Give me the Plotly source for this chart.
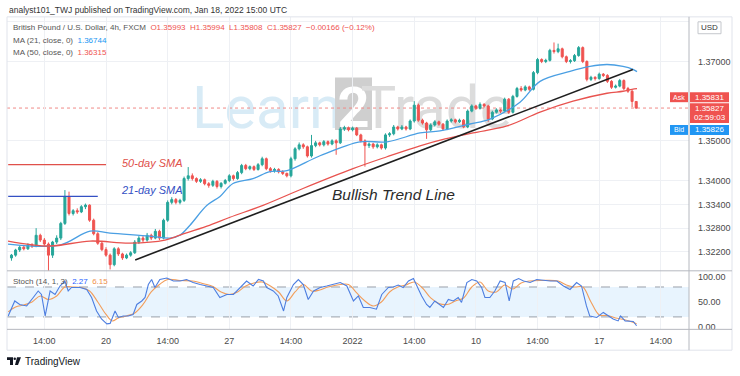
import plotly.graph_objects as go

W, H = 740, 376
def px(x): return x / W
def py(y): return 1 - y / H

# ---------------- data ----------------
candle_idx = list(range(-23, 130))
open_ = [1.3205, 1.3212, 1.3225, 1.3232, 1.3228, 1.3238, 1.3235, 1.3262, 1.3250, 1.3240,
         1.3212, 1.3245, 1.3255, 1.3292, 1.3360, 1.3317, 1.3324, 1.3321, 1.3334, 1.3338,
         1.3300, 1.3266, 1.3242, 1.3226, 1.3212, 1.3188, 1.3228, 1.3215, 1.3205, 1.3212,
         1.3218, 1.3245, 1.3255, 1.3250, 1.3262, 1.3255, 1.3272, 1.3255, 1.3300, 1.3345,
         1.3352, 1.3345, 1.3350, 1.3405, 1.3412, 1.3405, 1.3398, 1.3402, 1.3392, 1.3388,
         1.3398, 1.3385, 1.3393, 1.3400, 1.3412, 1.3405, 1.3420, 1.3438, 1.3430, 1.3435,
         1.3428, 1.3440, 1.3455, 1.3430, 1.3425, 1.3428, 1.3422, 1.3418, 1.3412, 1.3455,
         1.3480, 1.3490, 1.3485, 1.3462, 1.3488, 1.3495, 1.3490, 1.3498, 1.3492, 1.3500,
         1.3495, 1.3530, 1.3533, 1.3528, 1.3532, 1.3515, 1.3500, 1.3488, 1.3492, 1.3485,
         1.3490, 1.3482, 1.3515, 1.3518, 1.3535, 1.3530, 1.3535, 1.3530, 1.3550, 1.3590,
         1.3552, 1.3545, 1.3528, 1.3540, 1.3548, 1.3542, 1.3530, 1.3550, 1.3553, 1.3548,
         1.3552, 1.3535, 1.3575, 1.3588, 1.3582, 1.3592, 1.3588, 1.3555, 1.3572, 1.3578,
         1.3575, 1.3605, 1.3572, 1.3612, 1.3632, 1.3628, 1.3636, 1.3630, 1.3672, 1.3705,
         1.3700, 1.3703, 1.3728, 1.3725, 1.3732, 1.3712, 1.3700, 1.3702, 1.3715, 1.3735,
         1.3700, 1.3655, 1.3660, 1.3657, 1.3668, 1.3665, 1.3650, 1.3635, 1.3638, 1.3652,
         1.3632, 1.3625, 1.35993]
high = [1.3215, 1.3228, 1.3236, 1.3236, 1.3242, 1.3242, 1.3280, 1.3266, 1.3255, 1.3244,
        1.3248, 1.3262, 1.3296, 1.3376, 1.3372, 1.3328, 1.3330, 1.3338, 1.3342, 1.3340,
        1.3304, 1.3270, 1.3248, 1.3232, 1.3216, 1.3232, 1.3232, 1.3218, 1.3216, 1.3222,
        1.3250, 1.3260, 1.3260, 1.3268, 1.3266, 1.3278, 1.3276, 1.3304, 1.3350, 1.3358,
        1.3356, 1.3354, 1.3410, 1.3434, 1.3418, 1.3408, 1.3406, 1.3405, 1.3396, 1.3402,
        1.3401, 1.3396, 1.3404, 1.3416, 1.3415, 1.3424, 1.3442, 1.3442, 1.3438, 1.3438,
        1.3444, 1.3460, 1.3458, 1.3434, 1.3432, 1.3431, 1.3426, 1.3420, 1.3460, 1.3484,
        1.3496, 1.3494, 1.3488, 1.3515, 1.3500, 1.3498, 1.3502, 1.3501, 1.3504, 1.3504,
        1.3535, 1.3538, 1.3536, 1.3536, 1.3535, 1.3518, 1.3504, 1.3496, 1.3495, 1.3494,
        1.3493, 1.3519, 1.3522, 1.3540, 1.3538, 1.3540, 1.3538, 1.3554, 1.3600, 1.3594,
        1.3556, 1.3548, 1.3544, 1.3552, 1.3551, 1.3545, 1.3554, 1.3557, 1.3556, 1.3556,
        1.3555, 1.3579, 1.3592, 1.3591, 1.3597, 1.3595, 1.3591, 1.3576, 1.3582, 1.3581,
        1.3609, 1.3608, 1.3616, 1.3636, 1.3638, 1.3640, 1.3639, 1.3676, 1.3709, 1.3708,
        1.3707, 1.3732, 1.3748, 1.3745, 1.3735, 1.3715, 1.3706, 1.3719, 1.3739, 1.3738,
        1.3703, 1.3664, 1.3663, 1.3672, 1.3671, 1.3668, 1.3653, 1.3642, 1.3656, 1.3655,
        1.3636, 1.3628, 1.35994]
low = [1.3198, 1.3208, 1.3220, 1.3224, 1.3225, 1.3230, 1.3232, 1.3245, 1.3236, 1.3172,
       1.3205, 1.3240, 1.3250, 1.3288, 1.3312, 1.3312, 1.3316, 1.3318, 1.3328, 1.3296,
       1.3262, 1.3238, 1.3222, 1.3208, 1.3176, 1.3184, 1.3210, 1.3200, 1.3202, 1.3208,
       1.3215, 1.3240, 1.3245, 1.3246, 1.3250, 1.3252, 1.3250, 1.3252, 1.3296, 1.3340,
       1.3340, 1.3340, 1.3346, 1.3400, 1.3400, 1.3394, 1.3394, 1.3388, 1.3382, 1.3384,
       1.3380, 1.3380, 1.3390, 1.3396, 1.3400, 1.3402, 1.3416, 1.3426, 1.3426, 1.3424,
       1.3425, 1.3436, 1.3426, 1.3420, 1.3420, 1.3418, 1.3414, 1.3408, 1.3408, 1.3450,
       1.3476, 1.3480, 1.3458, 1.3458, 1.3484, 1.3486, 1.3486, 1.3488, 1.3489, 1.3465,
       1.3492, 1.3525, 1.3524, 1.3524, 1.3512, 1.3496, 1.3435, 1.3482, 1.3480, 1.3481,
       1.3478, 1.3478, 1.3510, 1.3514, 1.3526, 1.3527, 1.3526, 1.3527, 1.3546, 1.3548,
       1.3541, 1.3505, 1.3524, 1.3536, 1.3538, 1.3526, 1.3527, 1.3546, 1.3544, 1.3545,
       1.3532, 1.3532, 1.3572, 1.3578, 1.3579, 1.3584, 1.3548, 1.3552, 1.3569, 1.3570,
       1.3572, 1.3568, 1.3569, 1.3609, 1.3624, 1.3625, 1.3626, 1.3627, 1.3668, 1.3696,
       1.3696, 1.3700, 1.3720, 1.3721, 1.3708, 1.3696, 1.3695, 1.3699, 1.3712, 1.3696,
       1.3650, 1.3651, 1.3652, 1.3654, 1.3661, 1.3646, 1.3631, 1.3632, 1.3635, 1.3628,
       1.3621, 1.3585, 1.35808]
close = [1.3212, 1.3225, 1.3232, 1.3228, 1.3238, 1.3235, 1.3262, 1.3250, 1.3240, 1.3212,
         1.3245, 1.3255, 1.3292, 1.3360, 1.3317, 1.3324, 1.3321, 1.3334, 1.3338, 1.3300,
         1.3266, 1.3242, 1.3226, 1.3212, 1.3188, 1.3228, 1.3215, 1.3205, 1.3212, 1.3218,
         1.3245, 1.3255, 1.3250, 1.3262, 1.3255, 1.3272, 1.3255, 1.3300, 1.3345, 1.3352,
         1.3345, 1.3350, 1.3405, 1.3412, 1.3405, 1.3398, 1.3402, 1.3392, 1.3388, 1.3398,
         1.3385, 1.3393, 1.3400, 1.3412, 1.3405, 1.3420, 1.3438, 1.3430, 1.3435, 1.3428,
         1.3440, 1.3455, 1.3430, 1.3425, 1.3428, 1.3422, 1.3418, 1.3412, 1.3455, 1.3480,
         1.3490, 1.3485, 1.3462, 1.3488, 1.3495, 1.3490, 1.3498, 1.3492, 1.3500, 1.3495,
         1.3530, 1.3533, 1.3528, 1.3532, 1.3515, 1.3500, 1.3488, 1.3492, 1.3485, 1.3490,
         1.3482, 1.3515, 1.3518, 1.3535, 1.3530, 1.3535, 1.3530, 1.3550, 1.3590, 1.3552,
         1.3545, 1.3528, 1.3540, 1.3548, 1.3542, 1.3530, 1.3550, 1.3553, 1.3548, 1.3552,
         1.3535, 1.3575, 1.3588, 1.3582, 1.3592, 1.3588, 1.3555, 1.3572, 1.3578, 1.3575,
         1.3605, 1.3572, 1.3612, 1.3632, 1.3628, 1.3636, 1.3630, 1.3672, 1.3705, 1.3700,
         1.3703, 1.3728, 1.3725, 1.3732, 1.3712, 1.3700, 1.3702, 1.3715, 1.3735, 1.3700,
         1.3655, 1.3660, 1.3657, 1.3668, 1.3665, 1.3650, 1.3635, 1.3638, 1.3652, 1.3632,
         1.3625, 1.35993, 1.35827]

ma21_x = [-23.84, -11.19, -3.89, 0.97, 10.71, 15.57, 18.0, 20.44, 24.57, 27.74, 30.9,
          35.77, 39.9, 44.04, 52.07, 61.8, 68.37, 76.4, 81.27, 88.56, 93.43, 100.73,
          105.6, 112.9, 117.76, 121.9, 125.79, 128.22, 129.2]
ma21 = [1.3240, 1.32375, 1.32725, 1.32675, 1.3260, 1.3255, 1.32625, 1.32875, 1.33375,
        1.3360, 1.33925, 1.3405, 1.34225, 1.3425, 1.34625, 1.34975, 1.34975, 1.3520,
        1.3525, 1.35425, 1.3555, 1.35975, 1.3650, 1.3675, 1.36875, 1.36925, 1.36875,
        1.3680, 1.36744]
ma50_x = [-23.84, -13.63, -3.89, 5.84, 14.36, 18.0, 24.57, 30.17, 38.2, 47.93, 60.1,
          68.37, 76.4, 82.5, 89.29, 97.57, 105.6, 113.63, 121.9, 125.79, 127.98, 129.2]
ma50 = [1.32475, 1.3235, 1.32475, 1.32425, 1.3250, 1.32625, 1.3285, 1.33075, 1.33375,
        1.3380, 1.3430, 1.3460, 1.34875, 1.3505, 1.3520, 1.35375, 1.35725, 1.3600,
        1.3620, 1.3625, 1.3630, 1.36315]

trend_x = [7.1, 128.2]
trend_y = [1.3200, 1.3680]

stoch_k_x = [-23.8, -22.2, -21.0, -19.3, -17.7, -16.5, -15.7, -14.8, -13.6, -12.4,
             -11.2, -10.0, -9.2, -8.4, -6.3, -4.7, -3.5, -2.3, -1.1, 0.2,
             1.0, 2.2, 3.0, 4.2, 5.4, 6.6, 7.5, 8.7, 9.5, 10.3,
             11.1, 11.9, 13.1, 14.8, 16.4, 18.0, 19.6, 21.2, 22.9, 24.5,
             26.1, 27.7, 29.4, 31.0, 32.6, 34.2, 35.8, 37.1, 38.3, 39.1,
             40.7, 41.9, 43.2, 44.0, 45.6, 46.8, 48.0, 49.2, 50.5, 52.1,
             53.7, 55.3, 57.0, 58.6, 60.2, 61.4, 62.6, 64.2, 65.8, 67.1,
             68.7, 69.9, 71.1, 72.3, 73.6, 74.8, 75.6, 76.8, 78.0, 78.8,
             80.0, 81.3, 82.1, 83.3, 84.5, 85.7, 86.5, 87.8, 89.0, 90.2,
             91.4, 92.2, 93.4, 94.6, 95.9, 97.1, 98.1, 99.1, 100.4, 101.6,
             103.2, 104.8, 106.4, 108.1, 109.7, 111.3, 112.9, 114.5, 115.7, 116.9,
             117.7, 119.4, 121.0, 122.2, 123.4, 124.6, 125.2, 126.3, 127.5, 128.3,
             129.1]
stoch_k = [22, 52, 45, 42, 59, 72, 65, 22, 72, 65,
           82, 92, 72, 79, 79, 75, 59, 32, 16, 6,
           7, 32, 19, 22, 22, 25, 45, 52, 59, 85,
           95, 79, 95, 98, 92, 92, 95, 89, 85, 82,
           79, 59, 65, 65, 79, 92, 82, 95, 92, 79,
           72, 62, 32, 59, 85, 95, 85, 55, 72, 79,
           82, 85, 89, 82, 52, 62, 39, 39, 35.5, 65,
           79, 80, 84, 79, 92, 97, 82, 62, 45, 39,
           52, 45, 39, 55, 52, 59, 49, 89, 95, 92,
           79, 59, 59, 72, 92, 89, 52, 92, 97, 92,
           89, 95, 93, 92, 92, 82, 75, 89, 82, 42,
           22, 19, 29, 22, 16, 12, 22, 12, 11, 11,
           2.27]
stoch_d_x = [-23.8, -22, -20, -18, -16, -14, -12, -10, -8, -6,
             -4, -2, 0, 1.5, 3, 5, 7, 9, 11, 13,
             15, 18, 21, 24, 26, 28, 30, 32, 34, 36,
             38, 40, 42, 44, 46, 48, 50, 52, 54, 57,
             59, 61, 63, 65, 67, 69, 71, 73, 75, 77,
             79, 81, 83, 85, 87, 89, 91, 93, 95, 97,
             99, 101, 103, 106, 110, 112, 114, 116, 118, 120,
             122, 124, 126, 128, 129.1]
stoch_d = [30, 40, 44, 50, 62, 55, 62, 80, 80, 79,
           72, 50, 25, 12, 18, 22, 28, 45, 70, 85,
           95, 93, 92, 86, 81, 70, 65, 70, 82, 88,
           90, 82, 70, 52, 70, 85, 72, 74, 80, 85,
           85, 68, 52, 42, 50, 70, 80, 84, 90, 78,
           58, 47, 45, 52, 58, 80, 90, 72, 70, 84,
           76, 88, 92, 93, 92, 84, 80, 80, 50, 24,
           23, 18, 15, 10, 6.15]

time_tickvals = [-15, 0, 15, 30, 45, 60, 75, 90, 105, 120, 135]
time_ticktext = ["14:00", "20", "14:00", "27", "14:00", "2022", "14:00", "10", "14:00", "17", "14:00"]
price_tickvals = [1.322, 1.328, 1.334, 1.34, 1.35, 1.37, 1.38]
price_ticktext = ["1.32200", "1.32800", "1.33400", "1.34000", "1.35000", "1.37000", ""]
stoch_tickvals = [0, 50, 100]
stoch_ticktext = ["0.00", "50.00", "100.00"]

ask_price, bid_price, last_price = 1.35831, 1.35826, 1.35827
ma21_last, ma50_last = 1.36744, 1.36315

# ---------------- figure ----------------
GREEN, RED = "#26a69a", "#ef5350"
FONT = "Liberation Sans, Arial, sans-serif"
fig = go.Figure()

fig.add_trace(go.Candlestick(
    x=candle_idx, open=open_, high=high, low=low, close=close,
    increasing=dict(line=dict(color=GREEN, width=1), fillcolor=GREEN),
    decreasing=dict(line=dict(color=RED, width=1), fillcolor=RED),
    whiskerwidth=0, showlegend=False, xaxis="x", yaxis="y", hoverinfo="skip"))
fig.add_trace(go.Scatter(x=ma21_x, y=ma21, mode="lines", line=dict(color="#4a9fe3", width=1.3, shape="spline"),
                         showlegend=False, xaxis="x", yaxis="y", hoverinfo="skip"))
fig.add_trace(go.Scatter(x=ma50_x, y=ma50, mode="lines", line=dict(color="#e8534f", width=1.3, shape="spline"),
                         showlegend=False, xaxis="x", yaxis="y", hoverinfo="skip"))
fig.add_trace(go.Scatter(x=trend_x, y=trend_y, mode="lines", line=dict(color="#1f1f1f", width=1.6),
                         showlegend=False, xaxis="x", yaxis="y", hoverinfo="skip"))
fig.add_trace(go.Scatter(x=stoch_d_x, y=stoch_d, mode="lines", line=dict(color="#f29d5a", width=1.1, shape="spline"),
                         showlegend=False, xaxis="x2", yaxis="y2", hoverinfo="skip"))
fig.add_trace(go.Scatter(x=stoch_k_x, y=stoch_k, mode="lines", line=dict(color="#4d7ee0", width=1.1),
                         showlegend=False, xaxis="x2", yaxis="y2", hoverinfo="skip"))

XR = [-24.09, 141.85]
GRID = "#eef0f4"
AX = "#b5b8bf"
tickfont = dict(family=FONT, size=9, color="#4a4a4a")

fig.update_layout(
    width=W, height=H, margin=dict(l=0, r=0, t=0, b=0), autosize=False,
    paper_bgcolor="white", plot_bgcolor="white", showlegend=False,
    boxgap=0.3, hovermode=False,
    xaxis=dict(domain=[px(7), px(689)], range=XR, anchor="y", showticklabels=False,
               tickvals=time_tickvals, showgrid=True, gridcolor=GRID, zeroline=False,
               rangeslider=dict(visible=False), fixedrange=True),
    xaxis2=dict(domain=[px(7), px(689)], range=XR, anchor="y2", matches="x",
                tickvals=time_tickvals, ticktext=time_ticktext, tickfont=tickfont,
                showgrid=True, gridcolor=GRID, zeroline=False, ticks="", ticklabelstandoff=5),
    yaxis=dict(domain=[py(273), py(17)], range=[1.31725, 1.38125], side="right", anchor="x",
               tickvals=price_tickvals, ticktext=price_ticktext, tickfont=tickfont,
               showgrid=True, gridcolor=GRID, zeroline=False, ticks="", ticklabelstandoff=8),
    yaxis2=dict(domain=[py(332), py(273)], range=[-4.9, 112.4], side="right", anchor="x2",
                tickvals=stoch_tickvals, ticktext=stoch_ticktext, tickfont=tickfont,
                showgrid=False, zeroline=False, ticks="", ticklabelstandoff=8),
)

shapes = []
# watermark
shapes.append(dict(type="rect", xref="paper", yref="paper", x0=px(198), x1=px(336), y0=py(134), y1=py(74),
                   line=dict(width=0), fillcolor="rgba(0,0,0,0)", layer="below",
                   label=dict(text="Learn", font=dict(family="Roboto, sans-serif", size=60, color="#d8ebf6"),
                              textposition="middle center")))
shapes.append(dict(type="rect", xref="paper", yref="paper", x0=px(335), x1=px(372), y0=py(131), y1=py(78),
                   line=dict(width=0), fillcolor="#cfcfcf", layer="below",
                   label=dict(text="<b>2</b>", font=dict(family="Roboto, sans-serif", size=56, color="white"),
                              textposition="middle center")))
shapes.append(dict(type="rect", xref="paper", yref="paper", x0=px(372), x1=px(500), y0=py(134), y1=py(74),
                   line=dict(width=0), fillcolor="rgba(0,0,0,0)", layer="below",
                   label=dict(text="Trade", font=dict(family="Roboto, sans-serif", size=60, color="#dcdcdc"),
                              textposition="middle center")))
# stoch band and levels
shapes.append(dict(type="rect", xref="paper", yref="y2", x0=px(7), x1=px(689), y0=20, y1=80,
                   fillcolor="rgba(33,150,243,0.10)", line=dict(width=0), layer="below"))
for lv in (80, 20):
    shapes.append(dict(type="line", xref="paper", yref="y2", x0=px(7), x1=px(689), y0=lv, y1=lv,
                       line=dict(color="#9aa0aa", width=1, dash="dash"), layer="below"))
# current price line
shapes.append(dict(type="line", xref="paper", yref="y", x0=px(7), x1=px(689), y0=last_price, y1=last_price,
                   line=dict(color="#f08a88", width=1, dash="dot"), layer="below"))
# SMA key lines
shapes.append(dict(type="line", xref="x", yref="y", x0=-23.8, x1=0, y0=1.3440, y1=1.3440,
                   line=dict(color="#e0504a", width=1.3)))
shapes.append(dict(type="line", xref="x", yref="y", x0=-23.8, x1=-2, y0=1.3360, y1=1.3360,
                   line=dict(color="#3450c4", width=1.3)))
# frame
shapes.append(dict(type="rect", xref="paper", yref="paper", x0=px(7), x1=px(732), y0=py(353), y1=py(17),
                   line=dict(color="#e0e3eb", width=1), fillcolor="rgba(0,0,0,0)"))
shapes.append(dict(type="line", xref="paper", yref="paper", x0=px(689), x1=px(689), y0=py(353), y1=py(17),
                   line=dict(color=AX, width=1)))
for yy in (273, 332):
    shapes.append(dict(type="line", xref="paper", yref="paper", x0=px(7), x1=px(732), y0=py(yy), y1=py(yy),
                       line=dict(color=AX, width=1)))
# badges
shapes.append(dict(type="rect", xref="paper", yref="paper", x0=px(670), x1=px(688), y0=py(103), y1=py(93),
                   fillcolor=RED, line=dict(width=0)))
shapes.append(dict(type="rect", xref="paper", yref="paper", x0=px(690), x1=px(729), y0=py(103), y1=py(93),
                   fillcolor=RED, line=dict(width=0)))
shapes.append(dict(type="rect", xref="paper", yref="paper", x0=px(690), x1=px(729), y0=py(124), y1=py(104),
                   fillcolor=RED, line=dict(width=0)))
shapes.append(dict(type="rect", xref="paper", yref="paper", x0=px(670), x1=px(688), y0=py(136), y1=py(126),
                   fillcolor="#2196f3", line=dict(width=0)))
shapes.append(dict(type="rect", xref="paper", yref="paper", x0=px(690), x1=px(729), y0=py(136), y1=py(126),
                   fillcolor="#2196f3", line=dict(width=0)))
shapes.append(dict(type="rect", xref="paper", yref="paper", x0=px(698), x1=px(721), y0=py(34), y1=py(22),
                   fillcolor="white", line=dict(color="#c4c7cc", width=1)))
# TradingView logo glyph
shapes.append(dict(type="path", xref="paper", yref="paper",
                   path=f"M {px(7)} {py(360)} L {px(13)} {py(360)} L {px(13)} {py(368)} L {px(10)} {py(368)} L {px(10)} {py(363)} L {px(7)} {py(363)} Z",
                   fillcolor="#131722", line=dict(width=0)))
shapes.append(dict(type="circle", xref="paper", yref="paper", x0=px(13.5), x1=px(16), y0=py(363), y1=py(360.5),
                   fillcolor="#131722", line=dict(width=0)))
shapes.append(dict(type="path", xref="paper", yref="paper",
                   path=f"M {px(17)} {py(360)} L {px(21)} {py(360)} L {px(18)} {py(368)} L {px(15)} {py(368)} Z",
                   fillcolor="#131722", line=dict(width=0)))
fig.update_layout(shapes=shapes)

ann = []
def add_text(x, y, text, size=9, color="#333", xanchor="left", family=FONT):
    ann.append(dict(x=px(x), y=py(y), xref="paper", yref="paper", text=text, showarrow=False,
                    xanchor=xanchor, yanchor="middle", font=dict(family=family, size=size, color=color)))

add_text(7, 10, "analyst101_TWJ published on TradingView.com, Jan 18, 2022 15:00 UTC", size=8.5, color="#333")
add_text(11, 28, "British Pound / U.S. Dollar, 4h, FXCM  <span style='color:#ef5350'>O1.35993  H1.35994  L1.35808  C1.35827  −0.00166 (−0.12%)</span>",
         size=8, color="#555")
add_text(11, 41, f"MA (21, close, 0)  <span style='color:#2196f3'>{ma21_last:.5f}</span>", size=8, color="#555")
add_text(11, 53, f"MA (50, close, 0)  <span style='color:#ef5350'>{ma50_last:.5f}</span>", size=8, color="#555")
add_text(11, 284, "Stoch (14, 1, 3)  <span style='color:#2962ff'>2.27</span>  <span style='color:#f0904a'>6.15</span>",
         size=8, color="#555")
add_text(152, 164, "<i>50-day SMA</i>", size=11, color="#e0504a", xanchor="center")
add_text(152, 192, "<i>21-day SMA</i>", size=11, color="#3450c4", xanchor="center")
add_text(393, 196, "<i>Bullish Trend Line</i>", size=15.5, color="#2b2b2b", xanchor="center")
# badges text
add_text(679, 98, "Ask", size=7, color="white", xanchor="center")
add_text(709.5, 98, f"{ask_price:.5f}", size=8, color="white", xanchor="center")
add_text(709.5, 109, f"{last_price:.5f}", size=8, color="white", xanchor="center")
add_text(709.5, 118.5, "02:59:03", size=8, color="white", xanchor="center")
add_text(679, 131, "Bid", size=7, color="white", xanchor="center")
add_text(709.5, 131, f"{bid_price:.5f}", size=8, color="white", xanchor="center")
add_text(709.5, 28, "USD", size=8, color="#333", xanchor="center")
add_text(23, 364, "TradingView", size=10, color="#131722")
fig.update_layout(annotations=ann)

fig.write_html("out.html", config={"displayModeBar": False, "staticPlot": False},
               post_script="document.body.style.margin='0';document.body.style.padding='0';window.dispatchEvent(new Event('resize'));")
